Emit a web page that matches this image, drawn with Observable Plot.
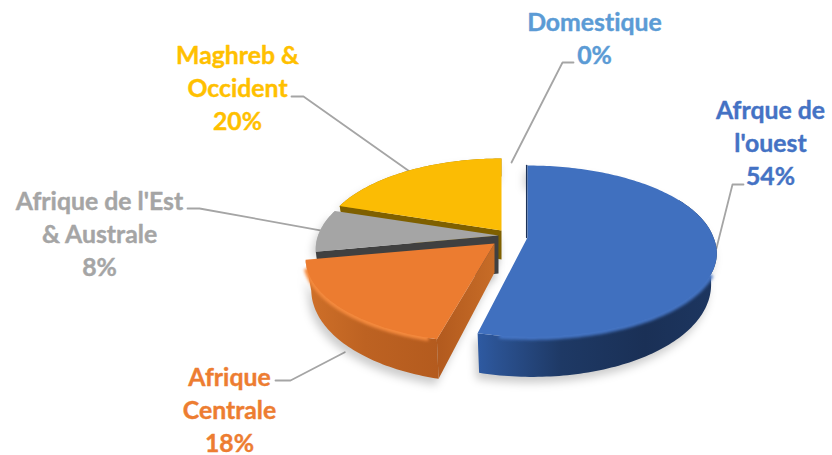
<!DOCTYPE html>
<html>
<head>
<meta charset="utf-8">
<script src="https://cdn.jsdelivr.net/npm/d3@7"></script>
<script src="https://cdn.jsdelivr.net/npm/@observablehq/plot@0.6"></script>
<style>html,body{margin:0;padding:0;background:#fff}svg{display:block}svg text{font-variant-ligatures:none;font-feature-settings:"liga" 0,"clig" 0}</style>
</head>
<body>
<div id="chart"></div>
<script>
// DATA (slice order clockwise from 12 o'clock)
const categories = ["Afrque de\nl'ouest", "Afrique\nCentrale", "Afrique de l'Est\n& Australe", "Maghreb &\nOccident", "Domestique"];
const shares = [54, 18, 8, 20, 0];

// STYLE
const faceColors = ["#4070bf", "#ec7c30", "#a5a5a5", "#fbbc04", "#5b9bd5"];
const labelColors = ["#4472c4", "#ed7d31", "#a5a5a5", "#ffc000", "#5b9bd5"];
const cutColors = ["#1b3258", "url(#cutOrange)", "#404040", "#7f6000", "none"];
const wallFills = ["url(#wallBlue)", "url(#wallOrange)", "#b8b8b8", "#a67c00", "none"];
const rimColors = ["#4474c4", "#f58a3e", "none", "none", "none"];

// LAYOUT (pie geometry and label placement)
const apexX = [527, 494, 498, 501, 511];
const apexY = [237, 243, 235, 230, 234];
const apexDepth = [29, 29, 38, 29, 0];
const radiusScale = [1, 1, 0.97, 0.96, 1];
const shearX = [5, -3, 0, 0, 0];
const R = 186, S = 83.5, K = 0.16;
const labelX = [770, 229, 99, 237, 594];
const labelY = [141, 408, 232, 86, 36.5];
const elbowX = [732, 290, 199, 303, 562];
const elbowY = [184, 380, 208, 96, 62];
const tailX = [743, 275, 187, 291, 573];
const tailY = [184, 380, 208, 96, 62];
const leaderFromWall = [0, 1, 0, 0, 0];

const total = d3.sum(shares);
const cum = d3.cumsum(shares);
const a0 = shares.map((_, i) => (i ? cum[i - 1] : 0) / total * 2 * Math.PI);
const a1 = shares.map((_, i) => cum[i] / total * 2 * Math.PI);

function topPt(i, t) {
  const u = Math.sin(t), v = -Math.cos(t), w = 1 - K * v;
  return {x: apexX[i] + R * radiusScale[i] * u / w + shearX[i] * Math.max(0, v), y: apexY[i] + S * v / w, v};
}
function lowPt(i, t) {
  const p = topPt(i, t);
  return {x: apexX[i] + (p.x - apexX[i]) * 0.97, y: p.y + apexDepth[i] + 11 * p.v, v: p.v};
}
const arc = (i, from, to, f) => {
  const n = Math.max(2, Math.ceil(Math.abs(to - from) / 0.02));
  return d3.range(n + 1).map(k => f(i, from + (to - from) * k / n));
};
const apex = i => ({x: apexX[i], y: apexY[i]});
const apexLow = i => ({x: apexX[i], y: apexY[i] + apexDepth[i]});

const xy = {x: "x", y: "y"};
const poly = (pts, fill) => Plot.line(pts, {...xy, fill, stroke: "none", curve: "linear"});
const blurred = id => (index, scales, values, dimensions, context, next) => {
  const g = next(index, scales, values, dimensions, context);
  g.setAttribute("filter", `url(#${id})`);
  return g;
};

const drawn = shares.map((s, i) => i).filter(i => shares[i] > 0);
const faces = i => [apex(i), ...arc(i, a0[i], a1[i], topPt), apex(i)];
const bodies = i => [apex(i), ...arc(i, a0[i], a1[i], topPt), ...arc(i, a1[i], a0[i], lowPt), apexLow(i)];

const marks = [];

// leaders (behind the pie)
shares.forEach((_, i) => {
  const mid = (a0[i] + a1[i]) / 2;
  const start = (leaderFromWall[i] ? lowPt : topPt)(i, mid);
  marks.push(Plot.line([
    {x: start.x, y: start.y + (leaderFromWall[i] ? 8 : 0)},
    {x: elbowX[i], y: elbowY[i]},
    {x: tailX[i], y: tailY[i]}
  ], {...xy, stroke: "#a5a5a5", strokeWidth: 1.8}));
});

// soft ground shadow
drawn.forEach(i => {
  marks.push(Plot.line(bodies(i).map(p => ({x: p.x - 3, y: p.y + 6})), {...xy, fill: "#000", fillOpacity: 0.2, stroke: "none", render: blurred("blurShadow")}));
});

// slices, back to front
[3, 2, 1, 0].forEach(i => {
  const wallFrom = a0[i] < Math.PI / 2 ? Math.PI / 2 - 0.5 : a0[i];
  marks.push(poly([...arc(i, wallFrom, a1[i], topPt), ...arc(i, a1[i], wallFrom, lowPt)], wallFills[i]));
  const cut = [apex(i), topPt(i, a0[i]), lowPt(i, a0[i]), apexLow(i)];
  marks.push(poly(cut, cutColors[i]));
  if (rimColors[i] !== "none") {
    const rimFrom = Math.max(a0[i] + 0.04, 2.0);
    marks.push(Plot.line(arc(i, rimFrom, a1[i] - 0.1, topPt), {...xy, stroke: rimColors[i], strokeWidth: 6, strokeLinecap: "butt", render: blurred("blurRim")}));
  }
  if (i === 0) {
    // thin dark inner cut seen along the first radius
    marks.push(Plot.line([topPt(i, 0), apex(i)], {...xy, stroke: "#1b3258", strokeWidth: 1.5, dx: -0.8}));
  }
  marks.push(poly(faces(i), faceColors[i]));
});

// labels
const rows = categories.map((c, i) => ({
  text: `${c}\n${Math.round(shares[i] / total * 100)}%`,
  x: labelX[i], y: labelY[i], color: labelColors[i]
}));
marks.push(Plot.text(rows, {
  x: "x", y: "y", text: "text", fill: "color", stroke: "color", strokeWidth: 0.4,
  textAnchor: "middle", lineAnchor: "middle", lineHeight: 1.32
}));

const chart = Plot.plot({
  width: 832, height: 455,
  marginTop: 0, marginRight: 0, marginBottom: 0, marginLeft: 0,
  x: {domain: [0, 832], range: [0, 832], axis: null},
  y: {domain: [0, 455], range: [0, 455], axis: null},
  style: {fontFamily: "Lato, sans-serif", fontSize: "24.8px", fontWeight: "bold", background: "#fff"},
  marks
});

const defs = d3.select(chart).insert("defs", ":first-child");
function grad(id, x1, x2, stops) {
  const g = defs.append("linearGradient").attr("id", id).attr("gradientUnits", "userSpaceOnUse")
    .attr("x1", x1).attr("x2", x2).attr("y1", 0).attr("y2", 0);
  stops.forEach(([o, c]) => g.append("stop").attr("offset", o).attr("stop-color", c));
}
grad("wallBlue", 477, 716, [[0, "#2e5aa2"], [0.08, "#2b5292"], [0.35, "#1e3965"], [0.7, "#1a3056"], [1, "#1d3660"]]);
grad("wallOrange", 306, 437, [[0, "#cf7029"], [0.45, "#bd6222"], [1, "#b45b1e"]]);
grad("cutOrange", 437, 494, [[0, "#b25a1e"], [1, "#c76c27"]]);
const blur = (id, s) => defs.append("filter").attr("id", id)
  .attr("x", "-20%").attr("y", "-20%").attr("width", "140%").attr("height", "140%")
  .append("feGaussianBlur").attr("stdDeviation", s);
blur("blurShadow", 4);
blur("blurRim", 1.8);

document.getElementById("chart").appendChild(chart);
</script>
</body>
</html>
